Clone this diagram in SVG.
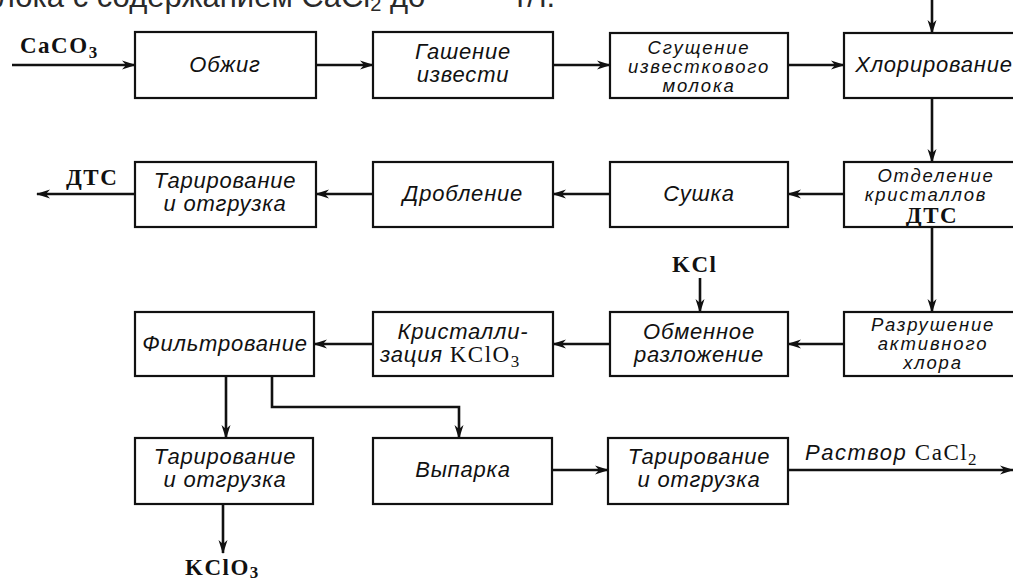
<svg xmlns="http://www.w3.org/2000/svg" width="1013" height="579" viewBox="0 0 1013 579">
<defs>
<style>
.box{fill:#fff;stroke:#111;stroke-width:2.2}
.t{font-family:"Liberation Sans",Arial,sans-serif;font-style:italic;font-size:22px;letter-spacing:0.8px;fill:#111;text-anchor:middle}
.ts{font-size:18.5px;letter-spacing:1.8px}
.f{font-family:"Liberation Serif","Times New Roman",serif;font-weight:bold;font-size:23px;fill:#111;letter-spacing:1.5px}
.fr{font-family:"Liberation Serif","Times New Roman",serif;font-style:normal;font-size:23px;fill:#111;letter-spacing:1.5px}
.c{fill:none;stroke:#111;stroke-width:2.6}
.top{font-family:"Liberation Sans",Arial,sans-serif;font-size:31px;fill:#2a2a2a}
</style>
<marker id="a" viewBox="0 0 14 10" refX="13" refY="5" markerWidth="14" markerHeight="10" markerUnits="userSpaceOnUse" orient="auto">
<path d="M0,0.5 L14,5 L0,9.5 L4,5 z" fill="#111"/>
</marker>
</defs>
<rect width="1013" height="579" fill="#fff"/>
<text class="top" x="-41" y="7">молока с содержанием CaCl<tspan font-size="20" dy="4">2</tspan><tspan dy="-4"> до</tspan></text>
<text class="top" x="513" y="7">т/т.</text>

<g id="connectors">
<path class="c" d="M12,65 H135" marker-end="url(#a)"/>
<path class="c" d="M316,65 H373" marker-end="url(#a)"/>
<path class="c" d="M553,65 H610" marker-end="url(#a)"/>
<path class="c" d="M788,65 H844" marker-end="url(#a)"/>
<path class="c" d="M932,0 V33" marker-end="url(#a)"/>
<path class="c" d="M932,98 V162" marker-end="url(#a)"/>
<path class="c" d="M844,194 H788" marker-end="url(#a)"/>
<path class="c" d="M610,194 H553" marker-end="url(#a)"/>
<path class="c" d="M373,194 H316" marker-end="url(#a)"/>
<path class="c" d="M135,194 H37" marker-end="url(#a)"/>
<path class="c" d="M932,227 V312" marker-end="url(#a)"/>
<path class="c" d="M844,344 H788" marker-end="url(#a)"/>
<path class="c" d="M700,278 V312" marker-end="url(#a)"/>
<path class="c" d="M610,344 H553" marker-end="url(#a)"/>
<path class="c" d="M373,344 H314" marker-end="url(#a)"/>
<path class="c" d="M226,376 V438" marker-end="url(#a)"/>
<path class="c" d="M272,376 V407 H459 V438" marker-end="url(#a)"/>
<path class="c" d="M552,470 H608" marker-end="url(#a)"/>
<path class="c" d="M788,470 H1013" marker-end="url(#a)"/>
<path class="c" d="M223,504 V553" marker-end="url(#a)"/>
</g>

<g id="labels">
<text class="f" x="20" y="53">CaCO<tspan font-size="17" dy="5">3</tspan></text>
<text class="f" x="66" y="185">ДТС</text>
<text class="f" x="672" y="272">KCl</text>
<text class="f" x="185" y="575">KClO<tspan font-size="17" dy="3">3</tspan></text>
<text class="t" x="805" y="460" style="text-anchor:start;letter-spacing:1.5px">Раствор <tspan class="fr">CaCl<tspan font-size="17" dy="5">2</tspan></tspan></text>
</g>

<g id="n-obzhig"><rect class="box" x="135" y="32" width="181" height="66"/><text class="t" x="225" y="72">Обжиг</text></g>
<g id="n-gashenie"><rect class="box" x="373" y="32" width="180" height="66"/><text class="t" x="463" y="59">Гашение</text><text class="t" x="463" y="82">извести</text></g>
<g id="n-sgushchenie"><rect class="box" x="610" y="33" width="178" height="65"/><text class="t ts" x="699" y="54">Сгущение</text><text class="t ts" x="699" y="73">известкового</text><text class="t ts" x="699" y="92">молока</text></g>
<g id="n-khlor"><rect class="box" x="844" y="33" width="180" height="65"/><text class="t" x="934" y="72">Хлорирование</text></g>

<g id="n-otdelenie"><rect class="box" x="844" y="162" width="180" height="65"/><text class="t ts" x="936" y="182">Отделение</text><text class="t ts" x="926" y="201">кристаллов</text><text class="f" x="932" y="223" text-anchor="middle" font-size="19">ДТС</text></g>
<g id="n-sushka"><rect class="box" x="610" y="162" width="178" height="65"/><text class="t" x="699" y="201">Сушка</text></g>
<g id="n-droblenie"><rect class="box" x="373" y="162" width="180" height="65"/><text class="t" x="463" y="201">Дробление</text></g>
<g id="n-tar1"><rect class="box" x="135" y="162" width="181" height="65"/><text class="t" x="225" y="188">Тарирование</text><text class="t" x="225" y="211">и отгрузка</text></g>

<g id="n-razrushenie"><rect class="box" x="844" y="312" width="180" height="64"/><text class="t ts" x="933" y="331">Разрушение</text><text class="t ts" x="933" y="350">активного</text><text class="t ts" x="933" y="369">хлора</text></g>
<g id="n-obmen"><rect class="box" x="610" y="312" width="178" height="64"/><text class="t" x="699" y="339">Обменное</text><text class="t" x="699" y="362">разложение</text></g>
<g id="n-krist"><rect class="box" x="373" y="312" width="180" height="64"/><text class="t" x="463" y="339">Кристалли-</text><text class="t" x="380" y="362" style="text-anchor:start">зация <tspan class="fr">KClO<tspan font-size="17" dy="5">3</tspan></tspan></text></g>
<g id="n-filtr"><rect class="box" x="135" y="312" width="179" height="64"/><text class="t" x="225" y="351">Фильтрование</text></g>

<g id="n-tar2"><rect class="box" x="135" y="438" width="178" height="66"/><text class="t" x="225" y="464">Тарирование</text><text class="t" x="225" y="487">и отгрузка</text></g>
<g id="n-vyparka"><rect class="box" x="373" y="438" width="179" height="66"/><text class="t" x="463" y="477">Выпарка</text></g>
<g id="n-tar3"><rect class="box" x="608" y="438" width="180" height="66"/><text class="t" x="699" y="464">Тарирование</text><text class="t" x="699" y="487">и отгрузка</text></g>
</svg>
